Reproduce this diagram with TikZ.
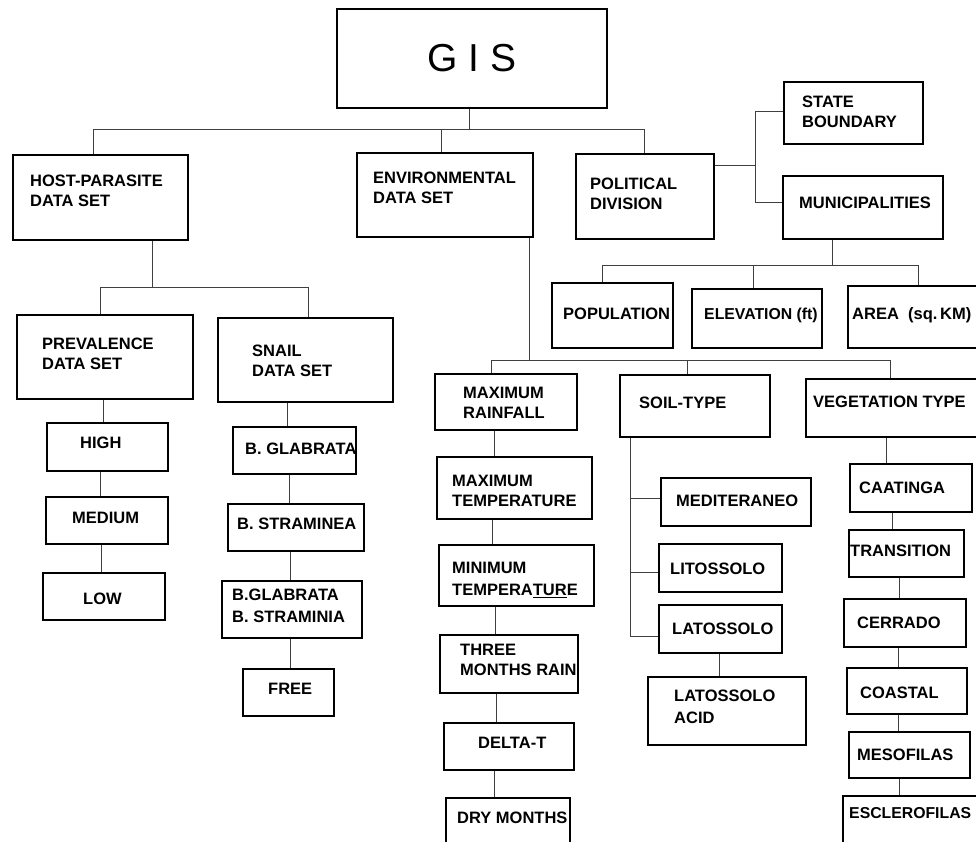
\documentclass[tikz,border=0pt]{standalone}
\usepackage{fontspec}
\setmainfont{Liberation Sans}
\usetikzlibrary{fit}
\tikzset{
  bx/.style={draw=black, line width=1.6pt, inner sep=0pt, fill=none},
  txt/.style={anchor=north west, inner sep=0pt, align=left, font=\fontsize{16.5}{20.5}\selectfont\bfseries},
  smalltxt/.style={txt, font=\fontsize{15.8}{20.5}\selectfont\bfseries},
  conn/.style={draw=black!75, line width=0.75pt}
}
\newcommand\mkbox[5]{%
  \coordinate (#1-a) at (#2,#3);
  \coordinate (#1-b) at (#4,#5);
  \node[bx, fit=(#1-a)(#1-b)] (#1) {};}
\newcommand\mktxt[5][txt]{%
  \node[#1] (#2) at (#3,{#4-12}) {\rule{0pt}{12pt}#5};}
\newcommand\vlink[3]{%
  \draw[conn] (#1,0 |- #2.south) -- (#1,0 |- #3.north);}
\begin{document}
\begin{tikzpicture}[x=1pt,y=-1pt]
\clip (0,0) rectangle (976,841);
\fill[white] (0,0) rectangle (976,841);

% ---- boxes
\mkbox{gis}{337}{9}{607}{108}
\node[font=\fontsize{39}{40}\selectfont] (gist) at (gis.center) {G I S};

\mkbox{hp}{13}{155}{188}{240}
\mktxt{hpt}{30}{186}{HOST-PARASITE\\DATA SET}
\mkbox{env}{357}{153}{533}{237}
\mktxt{envt}{373}{183}{ENVIRONMENTAL\\DATA SET}
\mkbox{pol}{576}{154}{714}{239}
\mktxt{polt}{590}{189}{POLITICAL\\DIVISION}
\mkbox{st}{784}{82}{923}{144}
\mktxt{stt}{802}{107}{STATE\\BOUNDARY}
\mkbox{mun}{783}{176}{943}{239}
\mktxt{munt}{799}{208}{MUNICIPALITIES}

\mkbox{popn}{552}{283}{673}{348}
\mktxt{popnt}{563}{319}{POPULATION}
\mkbox{elev}{692}{289}{822}{348}
\mktxt[smalltxt]{elevt}{704}{319}{ELEVATION\ (ft)}
\mkbox{area}{848}{286}{990}{348}
\mktxt{areat}{852}{319}{AREA\ \ (sq.\,KM)}

\mkbox{prev}{17}{315}{193}{399}
\mktxt{prevt}{42}{349}{PREVALENCE\\DATA SET}
\mkbox{snail}{218}{318}{393}{402}
\mktxt{snailt}{252}{356}{SNAIL\\DATA SET}

\mkbox{high}{47}{423}{168}{471}
\mktxt{hight}{80}{448}{HIGH}
\mkbox{med}{46}{497}{168}{544}
\mktxt{medt}{72}{523}{MEDIUM}
\mkbox{low}{43}{573}{165}{620}
\mktxt{lowt}{83}{604}{LOW}

\mkbox{glab}{233}{427}{356}{474}
\mktxt{glabt}{245}{454}{B. GLABRATA}
\mkbox{stra}{228}{504}{364}{551}
\mktxt{strat}{237}{529}{B. STRAMINEA}
\mkbox{mix}{222}{581}{362}{638}
\mktxt{mixt}{232}{600}{B.GLABRATA\\[1.5pt]B. STRAMINIA}
\mkbox{free}{243}{669}{334}{716}
\mktxt{freet}{268}{694}{FREE}

\mkbox{mr}{435}{374}{577}{430}
\mktxt{mrt}{463}{398}{MAXIMUM\\RAINFALL}
\mkbox{mxt}{437}{457}{592}{519}
\mktxt{mxtt}{452}{486}{MAXIMUM\\TEMPERATURE}
\mkbox{mnt}{439}{545}{594}{606}
\mktxt{mntt}{452}{573}{MINIMUM\\[1.5pt]TEMPERA\underline{TUR}E}
\mkbox{three}{440}{635}{578}{693}
\mktxt{threet}{460}{655}{THREE\\MONTHS RAIN}
\mkbox{delta}{444}{723}{574}{770}
\mktxt{deltat}{478}{748}{DELTA-T}
\mkbox{dry}{446}{798}{570}{860}
\mktxt{dryt}{457}{823}{DRY MONTHS}

\mkbox{soil}{620}{375}{770}{437}
\mktxt{soilt}{639}{408}{SOIL-TYPE}
\mkbox{medi}{661}{478}{811}{526}
\mktxt{medit}{676}{506}{MEDITERANEO}
\mkbox{lito}{659}{544}{782}{592}
\mktxt{litot}{670}{574}{LITOSSOLO}
\mkbox{lato}{659}{605}{782}{653}
\mktxt{latot}{672}{634}{LATOSSOLO}
\mkbox{acid}{648}{677}{806}{745}
\mktxt{acidt}{674}{701}{LATOSSOLO\\[1.5pt]ACID}

\mkbox{veg}{806}{379}{990}{437}
\mktxt{vegt}{813}{407}{VEGETATION TYPE}
\mkbox{caat}{850}{464}{972}{512}
\mktxt{caatt}{859}{493}{CAATINGA}
\mkbox{tran}{849}{530}{964}{577}
\mktxt{trant}{850}{556}{TRANSITION}
\mkbox{cerr}{844}{599}{966}{647}
\mktxt{cerrt}{857}{628}{CERRADO}
\mkbox{coast}{847}{668}{967}{714}
\mktxt{coastt}{860}{698}{COASTAL}
\mkbox{meso}{849}{732}{970}{778}
\mktxt{mesot}{857}{760}{MESOFILAS}
\mkbox{escl}{843}{796}{990}{860}
\mktxt[smalltxt]{esclt}{849}{818}{ESCLEROFILAS}

% ---- connectors
\coordinate (gb) at (469,129);
\coordinate (gbL) at (93,129);
\coordinate (gbR) at (644,129);
\coordinate (gbE) at (441,129);
\draw[conn] (gb |- gis.south) -- (gb);
\draw[conn] (gbL |- hp.north) -- (gbL) -- (gbR) -- (gbR |- pol.north);
\draw[conn] (gbE) -- (gbE |- env.north);

\coordinate (pj) at (755,165);
\coordinate (pt) at (755,111);
\coordinate (pb) at (755,202);
\draw[conn] (pj -| pol.east) -- (pj);
\draw[conn] (pt -| st.west) -- (pt) -- (pb) -- (pb -| mun.west);

\coordinate (mb) at (832,265);
\coordinate (mbL) at (602,265);
\coordinate (mbM) at (753,265);
\coordinate (mbR) at (918,265);
\draw[conn] (mb |- mun.south) -- (mb);
\draw[conn] (mbL |- popn.north) -- (mbL) -- (mbR) -- (mbR |- area.north);
\draw[conn] (mbM) -- (mbM |- elev.north);

\coordinate (hb) at (152,287);
\coordinate (hbL) at (100,287);
\coordinate (hbR) at (308,287);
\draw[conn] (hb |- hp.south) -- (hb);
\draw[conn] (hbL |- prev.north) -- (hbL) -- (hbR) -- (hbR |- snail.north);

\vlink{103}{prev}{high}
\vlink{100}{high}{med}
\vlink{101}{med}{low}
\vlink{287}{snail}{glab}
\vlink{289}{glab}{stra}
\vlink{290}{stra}{mix}
\vlink{290}{mix}{free}

\coordinate (eb) at (529,360);
\coordinate (ebL) at (491,360);
\coordinate (ebM) at (687,360);
\coordinate (ebR) at (890,360);
\draw[conn] (eb |- env.south) -- (eb);
\draw[conn] (ebL |- mr.north) -- (ebL) -- (ebR) -- (ebR |- veg.north);
\draw[conn] (ebM) -- (ebM |- soil.north);

\vlink{494}{mr}{mxt}
\vlink{492}{mxt}{mnt}
\vlink{495}{mnt}{three}
\vlink{496}{three}{delta}
\vlink{494}{delta}{dry}

\coordinate (s1) at (630,498);
\coordinate (s2) at (630,572);
\coordinate (s3) at (630,636);
\draw[conn] (s3 |- soil.south) -- (s3) -- (s3 -| lato.west);
\draw[conn] (s1) -- (s1 -| medi.west);
\draw[conn] (s2) -- (s2 -| lito.west);
\vlink{719}{lato}{acid}

\vlink{886}{veg}{caat}
\vlink{892}{caat}{tran}
\vlink{899}{tran}{cerr}
\vlink{898}{cerr}{coast}
\vlink{898}{coast}{meso}
\vlink{899}{meso}{escl}
\end{tikzpicture}
\end{document}
